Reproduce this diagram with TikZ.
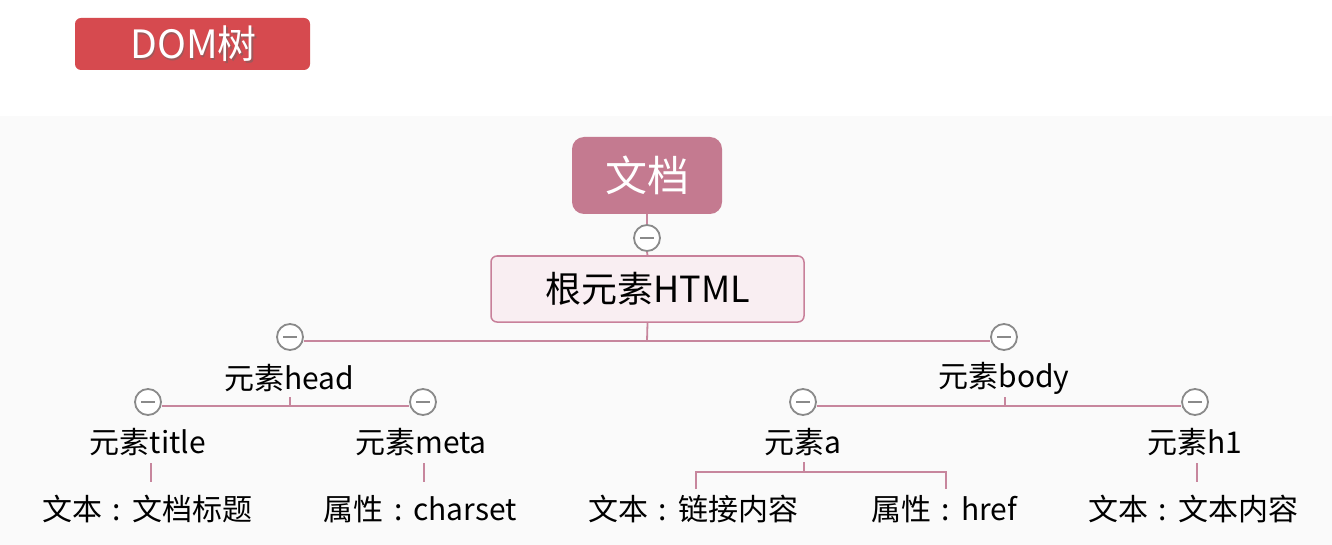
\documentclass[tikz,border=0pt]{standalone}
\usepackage{fontspec}
\setmainfont{Noto Sans CJK SC}
\definecolor{conn}{HTML}{C7869D}
\definecolor{docfill}{HTML}{C47A90}
\definecolor{htmlfill}{HTML}{F9EEF2}
\definecolor{htmlline}{HTML}{C8809A}
\definecolor{domred}{HTML}{D64A4F}
\definecolor{bandgrey}{HTML}{FAFAFA}
\definecolor{circgrey}{HTML}{8A8A8A}
\newcommand{\fcolon}{\hbox to 1em{\hss:\hss}}
\tikzset{
  conn/.style={draw=conn, line width=1.8pt},
  lbl/.style={inner sep=0pt, font=\fontsize{30}{34}\selectfont, text=black},
  fold/.style={circle, draw=circgrey, line width=1.8pt, fill=white, minimum size=26pt, inner sep=0pt,
    path picture={\draw[circgrey, line width=2.6pt] ([xshift=-7pt]path picture bounding box.center) -- ([xshift=7pt]path picture bounding box.center);}},
}
\begin{document}
\begin{tikzpicture}[x=1pt,y=-1pt]
\useasboundingbox (0,0) rectangle (1332,545);
\fill[white] (0,0) rectangle (1332,116);
\fill[bandgrey] (0,116) rectangle (1332,545);

% title button
\node[draw=none, fill=domred, rounded corners=6pt, minimum width=235pt, minimum height=52pt, inner sep=0pt] (dombtn) at (192.5,44) {};
\node[inner sep=0pt, font=\fontsize{39}{42}\selectfont, text=black!60, opacity=0.5] at (195,46) {DOM树};
\node[inner sep=0pt, font=\fontsize{39}{42}\selectfont, text=white] (domtxt) at (193.5,44) {DOM树};

% document node
\node[fill=docfill, rounded corners=12pt, minimum width=150pt, minimum height=77pt, inner sep=0pt, text=white, font=\fontsize{42}{46}\selectfont] (doc) at (647,175.5) {文档};
\node[fold] (docc) at (647,238) {};
\node[draw=htmlline, line width=1.5pt, fill=htmlfill, rounded corners=6pt, minimum width=313pt, minimum height=66pt, inner sep=0pt, font=\fontsize{36}{40}\selectfont] (html) at (647.5,289) {根元素HTML};
\draw[conn] (doc.south) -- (docc.north);
\draw[conn] (docc.south) -- (html.north);

% level 2
\node[fold] (headc) at (290,337) {};
\node[fold] (bodyc) at (1004,337) {};
\coordinate (j1) at (647,341);
\draw[conn] (html.south) -- (j1);
\draw[conn] ([yshift=-4pt]headc.east) -- ([yshift=-4pt]bodyc.west);

\node[lbl] (head) at (289,378) {元素head};
\node[lbl] (body) at (1004,378) {元素body};

% head children
\coordinate (hj) at (290,406);
\draw[conn] (290,397) -- (hj);
\node[fold] (titlec) at (148,402) {};
\node[fold] (metac) at (423,402) {};
\draw[conn] ([yshift=-4pt]titlec.east) -- ([yshift=-4pt]metac.west);

\node[lbl] (title) at (148,442) {元素title};
\node[lbl] (meta) at (421,442) {元素meta};
\node[lbl] (titletxt) at (147,509) {文本\fcolon 文档标题};
\node[lbl] (metatxt) at (420,509) {属性\fcolon charset};
\coordinate (t1) at (151,463);
\coordinate (t2) at (151,482);
\draw[conn, line width=1.5pt] (t1) -- (t2);
\coordinate (m1) at (424,463);
\coordinate (m2) at (424,482);
\draw[conn, line width=1.5pt] (m1) -- (m2);

% body children
\coordinate (bj) at (1005,406);
\draw[conn] (1005,397) -- (bj);
\node[fold] (ac) at (803,402) {};
\node[fold] (h1c) at (1195,402) {};
\draw[conn] ([yshift=-4pt]ac.east) -- ([yshift=-4pt]h1c.west);

\node[lbl] (a) at (803,442) {元素a};
\node[lbl] (h1) at (1195,442) {元素h1};
\node[lbl] (atxt) at (693,509) {文本\fcolon 链接内容};
\node[lbl] (ahref) at (944,509) {属性\fcolon href};
\node[lbl] (h1txt) at (1193,509) {文本\fcolon 文本内容};

\coordinate (a1) at (804,462);
\coordinate (a2) at (804,472);
\coordinate (al) at (696,489);
\coordinate (ar) at (946,489);
\draw[conn, line width=1.5pt] (a1) -- (a2);
\draw[conn, line width=1.5pt] (al) |- (a2) -| (ar);
\coordinate (h11) at (1197,463);
\coordinate (h12) at (1197,482);
\draw[conn, line width=1.5pt] (h11) -- (h12);
\end{tikzpicture}
\end{document}
